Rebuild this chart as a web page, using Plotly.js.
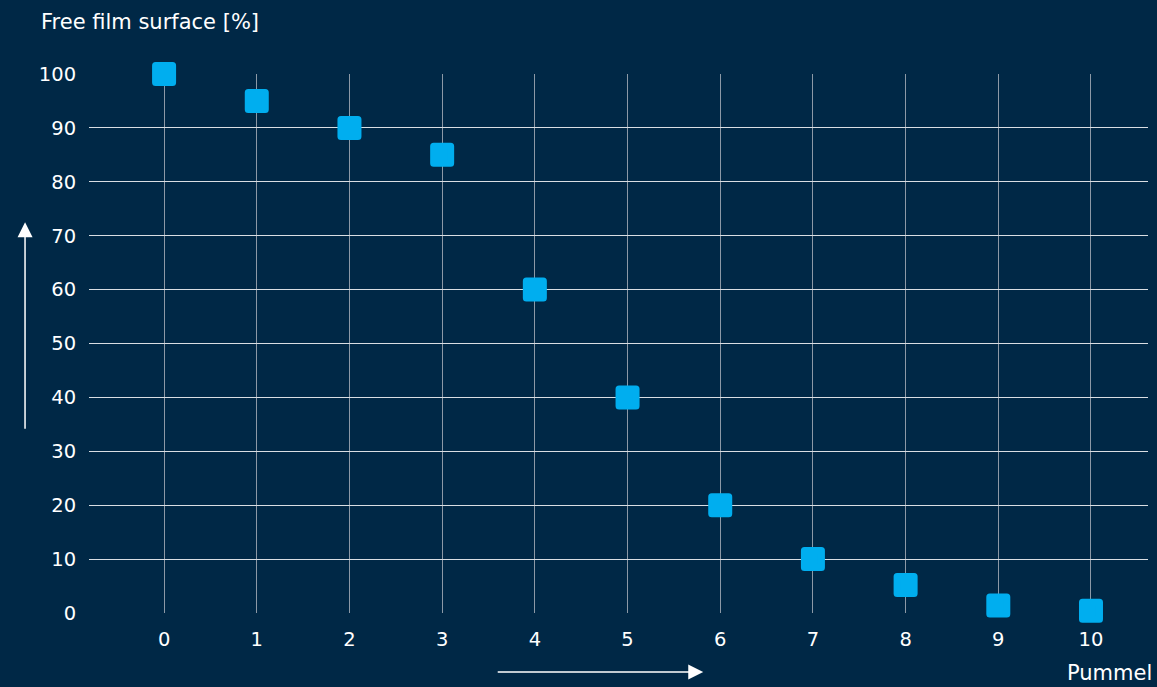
<!DOCTYPE html>
<html>
<head>
<meta charset="utf-8">
<script src="https://cdn.plot.ly/plotly-3.0.1.min.js"></script>
<style>
html,body{margin:0;padding:0;background:#002846;}
#chart{width:1157px;height:687px;}
#chart .scatterlayer .point{stroke-linejoin:round;}
</style>
</head>
<body>
<div id="chart"></div>
<script>
const pummel = [0, 1, 2, 3, 4, 5, 6, 7, 8, 9, 10];
const freeFilm = [100, 95, 90, 85, 60, 40, 20, 10, 5.2, 1.4, 0.4];
const yTicks = [0, 10, 20, 30, 40, 50, 60, 70, 80, 90, 100];
const yTitle = 'Free film surface [%]';
const xTitle = 'Pummel';

const fam = '"DejaVu Sans", "Noto Sans", sans-serif';
const font = {family: fam, color: '#ffffff', size: 19.5};

const trace = {
  x: pummel, y: freeFilm, type: 'scatter', mode: 'markers',
  cliponaxis: false,
  marker: {symbol: 'square', size: 17, color: '#00aeef', line: {width: 7, color: '#00aeef'}}
};

const layout = {
  width: 1157, height: 687,
  paper_bgcolor: '#002846', plot_bgcolor: '#002846',
  margin: {l: 89, r: 9, t: 74, b: 74},
  showlegend: false,
  font: font,
  xaxis: {
    range: [-0.81, 10.615], tickvals: pummel, ticktext: pummel.map(String),
    showgrid: true, gridcolor: '#8c99a6', gridwidth: 1,
    zeroline: false, showline: false,
    ticks: 'outside', ticklen: 9, tickcolor: 'rgba(0,0,0,0)',
    tickfont: font, fixedrange: true
  },
  yaxis: {
    range: [0, 100], tickvals: yTicks, ticktext: yTicks.map(String),
    showgrid: true, gridcolor: '#d9dee3', gridwidth: 1,
    zeroline: false, showline: false,
    ticks: 'outside', ticklen: 8, tickcolor: 'rgba(0,0,0,0)',
    tickfont: font, fixedrange: true
  },
  annotations: [
    {text: yTitle, xref: 'paper', yref: 'paper', x: -0.047, y: 1.0, yshift: 52,
     xanchor: 'left', yanchor: 'middle', showarrow: false,
     font: {family: fam, color: '#ffffff', size: 21}},
    {text: xTitle, xref: 'paper', yref: 'paper', x: 1.0, y: 0, yshift: -60, xshift: 6,
     xanchor: 'right', yanchor: 'middle', showarrow: false,
     font: {family: fam, color: '#ffffff', size: 21}},
    {text: '', xref: 'paper', yref: 'paper', axref: 'pixel', ayref: 'pixel',
     x: -0.0604, y: 0.725, ax: 0, ay: 208, showarrow: true,
     arrowhead: 2, arrowsize: 2, arrowwidth: 1.5, arrowcolor: '#ffffff'},
    {text: '', xref: 'paper', yref: 'paper',
     x: 0.58, y: 0, yshift: -59, ax: -207, ay: 0, showarrow: true,
     arrowhead: 2, arrowsize: 2, arrowwidth: 1.5, arrowcolor: '#ffffff'}
  ]
};

Plotly.newPlot('chart', [trace], layout, {displayModeBar: false, staticPlot: true});
</script>
</body>
</html>
